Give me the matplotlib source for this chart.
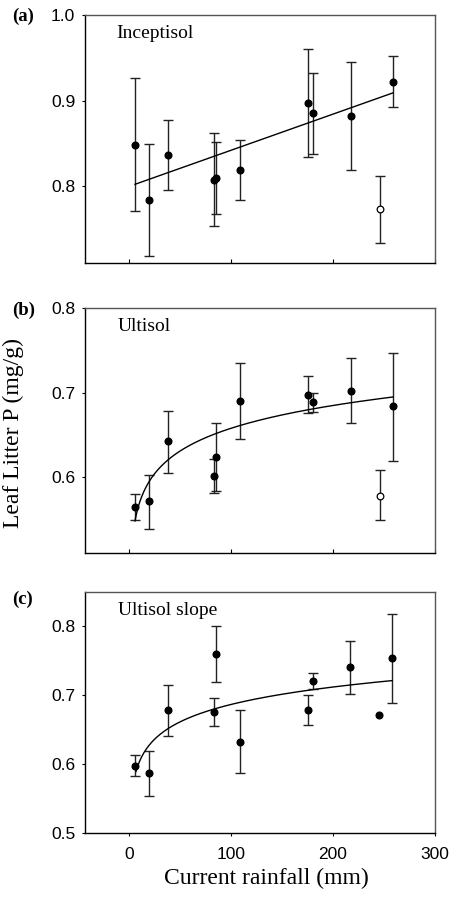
import numpy as np
import matplotlib.pyplot as plt

# rainfall (mm) for each sampling date, shared by panels a and b
rain = [6, 19.5, 38, 83, 85, 109, 176, 180, 218, 246, 259]

# (a) Inceptisol
incep_p = [0.848, 0.784, 0.836, 0.807, 0.809, 0.819, 0.897, 0.885, 0.882, 0.773, 0.922]
incep_hi = [0.926, 0.849, 0.877, 0.862, 0.851, 0.854, 0.960, 0.932, 0.945, 0.812, 0.952]
incep_lo = [0.771, 0.718, 0.795, 0.753, 0.767, 0.784, 0.834, 0.838, 0.819, 0.733, 0.892]
incep_open = [False, False, False, False, False, False, False, False, False, True, False]
incep_fit_x = [6, 259]
incep_fit_y = [0.802, 0.909]

# (b) Ultisol
ult_p = [0.565, 0.571, 0.642, 0.601, 0.624, 0.690, 0.697, 0.689, 0.702, 0.578, 0.684]
ult_hi = [0.580, 0.602, 0.678, 0.621, 0.664, 0.735, 0.719, 0.700, 0.741, 0.608, 0.747]
ult_lo = [0.549, 0.538, 0.605, 0.581, 0.583, 0.645, 0.676, 0.677, 0.664, 0.549, 0.619]
ult_open = [False, False, False, False, False, False, False, False, False, True, False]
ult_fit = (0.478, 0.0390)  # y = a + b*ln(x)

# (c) Ultisol slope (point at 245.6 has no error bar)
slope_rain = [6.5, 19.5, 38, 83, 85, 109, 176, 180, 217, 245.6, 258]
slope_p = [0.597, 0.587, 0.678, 0.675, 0.760, 0.632, 0.679, 0.721, 0.741, 0.671, 0.754]
slope_hi = [0.613, 0.619, 0.715, 0.696, 0.801, 0.678, 0.701, 0.733, 0.779, None, 0.818]
slope_lo = [0.582, 0.554, 0.641, 0.656, 0.719, 0.587, 0.657, 0.709, 0.702, None, 0.689]
slope_fit = (0.518, 0.0366)

TICK_FONT = 'Liberation Sans'
SERIF = 'Liberation Serif'


def draw_panel(ax, x, y, hi, lo, is_open):
    has_err = [h is not None for h in hi]
    ex = np.array([a for a, k in zip(x, has_err) if k])
    ey = np.array([a for a, k in zip(y, has_err) if k])
    ehi = np.array([a for a in hi if a is not None])
    elo = np.array([a for a in lo if a is not None])
    ax.errorbar(ex, ey, yerr=[ey - elo, ehi - ey], fmt='none', ecolor='#222222',
                elinewidth=1.0, capsize=3.5, capthick=1.0, zorder=2)
    x = np.array(x)
    y = np.array(y)
    mask = np.array(is_open)
    ax.plot(x[~mask], y[~mask], 'o', color='black', ms=4.8, zorder=3)
    if mask.any():
        ax.plot(x[mask], y[mask], 'o', mfc='white', mec='black', mew=0.9, ms=4.8, zorder=3)


def style_axes(ax, ylim, yticks, show_x):
    ax.set_xlim(-43, 300)
    ax.set_ylim(*ylim)
    ax.set_yticks(yticks)
    ax.set_yticklabels([f"{t:.1f}" for t in yticks], fontfamily=TICK_FONT, fontsize=12.5)
    ax.set_xticks([0, 100, 200, 300])
    if show_x:
        ax.set_xticklabels(['0', '100', '200', '300'], fontfamily=TICK_FONT, fontsize=12.5)
        ax.tick_params(axis='x', direction='out', length=2, pad=8)
    else:
        ax.set_xticklabels([])
        ax.tick_params(axis='x', direction='in', length=3)
    ax.tick_params(axis='y', direction='out', length=2, pad=5)
    for side in ['top', 'right']:
        ax.spines[side].set_color('#555555')
    for sp in ax.spines.values():
        sp.set_linewidth(1.0)


fig = plt.figure(figsize=(4.53, 8.97), dpi=100)
ax_a = fig.add_axes([0.1876, 0.7068, 0.7726, 0.2765])
ax_b = fig.add_axes([0.1876, 0.3835, 0.7726, 0.2731])
ax_c = fig.add_axes([0.1876, 0.0714, 0.7726, 0.2687])

# (a)
draw_panel(ax_a, rain, incep_p, incep_hi, incep_lo, incep_open)
ax_a.plot(incep_fit_x, incep_fit_y, color='black', lw=1.0)
style_axes(ax_a, (0.71, 1.0), [0.8, 0.9, 1.0], False)
ax_a.text(0.089, 0.925, 'Inceptisol', transform=ax_a.transAxes, fontfamily=SERIF,
          fontsize=14, va='center')

# (b)
draw_panel(ax_b, rain, ult_p, ult_hi, ult_lo, ult_open)
xs = np.linspace(6, 259, 200)
ax_b.plot(xs, ult_fit[0] + ult_fit[1] * np.log(xs), color='black', lw=1.0)
style_axes(ax_b, (0.51, 0.80), [0.6, 0.7, 0.8], False)
ax_b.text(0.094, 0.924, 'Ultisol', transform=ax_b.transAxes, fontfamily=SERIF,
          fontsize=14, va='center')

# (c)
draw_panel(ax_c, slope_rain, slope_p, slope_hi, slope_lo, [False] * len(slope_rain))
xs = np.linspace(7, 258, 200)
ax_c.plot(xs, slope_fit[0] + slope_fit[1] * np.log(xs), color='black', lw=1.0)
style_axes(ax_c, (0.5, 0.85), [0.5, 0.6, 0.7, 0.8], True)
ax_c.text(0.094, 0.925, 'Ultisol slope', transform=ax_c.transAxes, fontfamily=SERIF,
          fontsize=14, va='center')

for lab, yy in [('(a)', 0.982), ('(b)', 0.654), ('(c)', 0.332)]:
    fig.text(0.027, yy, lab, fontfamily=SERIF, fontweight='bold', fontsize=13.5, va='center')

fig.text(0.030, 0.517, 'Leaf Litter P (mg/g)', rotation=90, fontfamily=SERIF,
         fontsize=17, va='center', ha='center')
fig.text(0.589, 0.021, 'Current rainfall (mm)', fontfamily=SERIF, fontsize=17,
         va='center', ha='center')

fig.savefig('out.png', dpi=100)
